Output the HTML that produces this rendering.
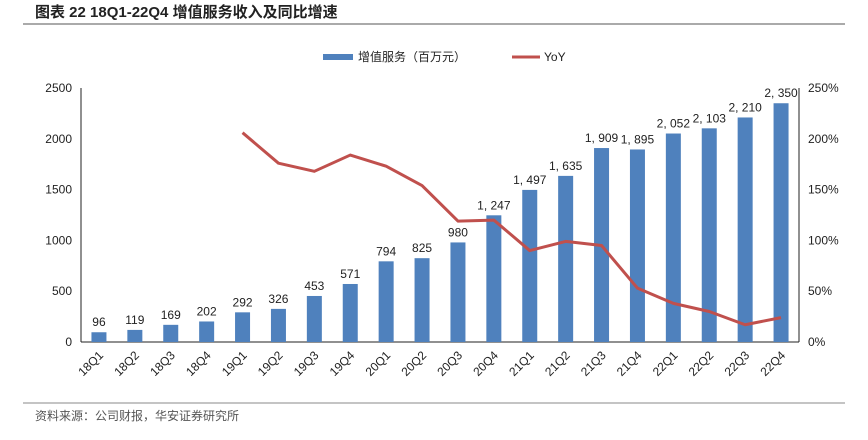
<!DOCTYPE html>
<html><head><meta charset="utf-8"><style>
body{margin:0;background:#fff;width:868px;height:435px;overflow:hidden;font-family:"Liberation Sans","Noto Sans CJK SC",sans-serif}
</style></head><body>
<svg width="868" height="435">
<text x="35" y="17" font-size="15" font-weight="bold" fill="#222" font-family="Liberation Sans,Noto Sans CJK SC,sans-serif">图表 22 18Q1-22Q4 增值服务收入及同比增速</text>
<line x1="23" y1="24" x2="845" y2="24" stroke="#555" stroke-width="1"/>
<g font-size="12" fill="#222">
<rect x="323" y="54" width="30" height="6" fill="#4f81bd"/>
<text x="358" y="61">增值服务（百万元）</text>
<line x1="512" y1="57" x2="540" y2="57" stroke="#c0504d" stroke-width="3"/>
<text x="544" y="61">YoY</text>
</g>
<g id="plot"></g>
<line x1="23" y1="403" x2="845" y2="403" stroke="#888" stroke-width="1"/>
<text x="35" y="420" font-size="12" fill="#555">资料来源：公司财报，华安证券研究所</text>
</svg>
<script>
const categories=["18Q1","18Q2","18Q3","18Q4","19Q1","19Q2","19Q3","19Q4","20Q1","20Q2","20Q3","20Q4","21Q1","21Q2","21Q3","21Q4","22Q1","22Q2","22Q3","22Q4"];
const revenue=[96,119,169,202,292,326,453,571,794,825,980,1247,1497,1635,1909,1895,2052,2103,2210,2350];
const yoy=[null,null,null,null,206,176,168,184,173,154,119,120,90,99,95,53,38,30,17,24];
const leftTicks=[0,500,1000,1500,2000,2500];
const rightTicks=[0,50,100,150,200,250];
</script>
<script>
const NS="http://www.w3.org/2000/svg";
const g=document.getElementById('plot');
const n=revenue.length;
const x0=81,x1=799,y0=342,y1=88;
const band=(x1-x0)/n;
const xc=i=>x0+band*(i+0.5);
const yL=v=>y0-(v/2500)*(y0-y1);
const yR=v=>y0-(v/250)*(y0-y1);
function el(t,a){const e=document.createElementNS(NS,t);for(const k in a)e.setAttribute(k,a[k]);g.appendChild(e);return e;}
leftTicks.forEach(t=>{const e=el('text',{x:72,y:yL(t)+4,'text-anchor':'end','font-size':12,fill:'#222'});e.textContent=t;

});
rightTicks.forEach(t=>{const e=el('text',{x:808,y:yR(t)+4,'font-size':12,fill:'#222'});e.textContent=t+'%';

});
let a=el('line',{x1:x0,y1:y1,x2:x0,y2:y0,stroke:'#222'});


a=el('line',{x1:x1,y1:y1,x2:x1,y2:y0,stroke:'#222'});


a=el('line',{x1:x0,y1:y0,x2:x1,y2:y0,stroke:'#222'});


revenue.forEach((v,i)=>{
const b=el('rect',{x:xc(i)-7.5,y:yL(v),width:15,height:y0-yL(v),fill:'#4f81bd'});


const t=el('text',{x:xc(i),y:yL(v)-6,'text-anchor':'middle','font-size':12,fill:'#222'});
t.textContent=v>=1000?String(v).slice(0,1)+', '+String(v).slice(1):String(v);


const c=el('text',{x:xc(i)+5,y:y0+14,'text-anchor':'end','font-size':12,fill:'#222',transform:`rotate(-45 ${xc(i)+5} ${y0+14})`});
c.textContent=categories[i];


});
const pts=yoy.map((v,i)=>v==null?null:xc(i)+','+yR(v)).filter(p=>p);
const l=el('polyline',{points:pts.join(' '),fill:'none',stroke:'#c0504d','stroke-width':3,'stroke-linejoin':'round'});


</script>
</body></html>
